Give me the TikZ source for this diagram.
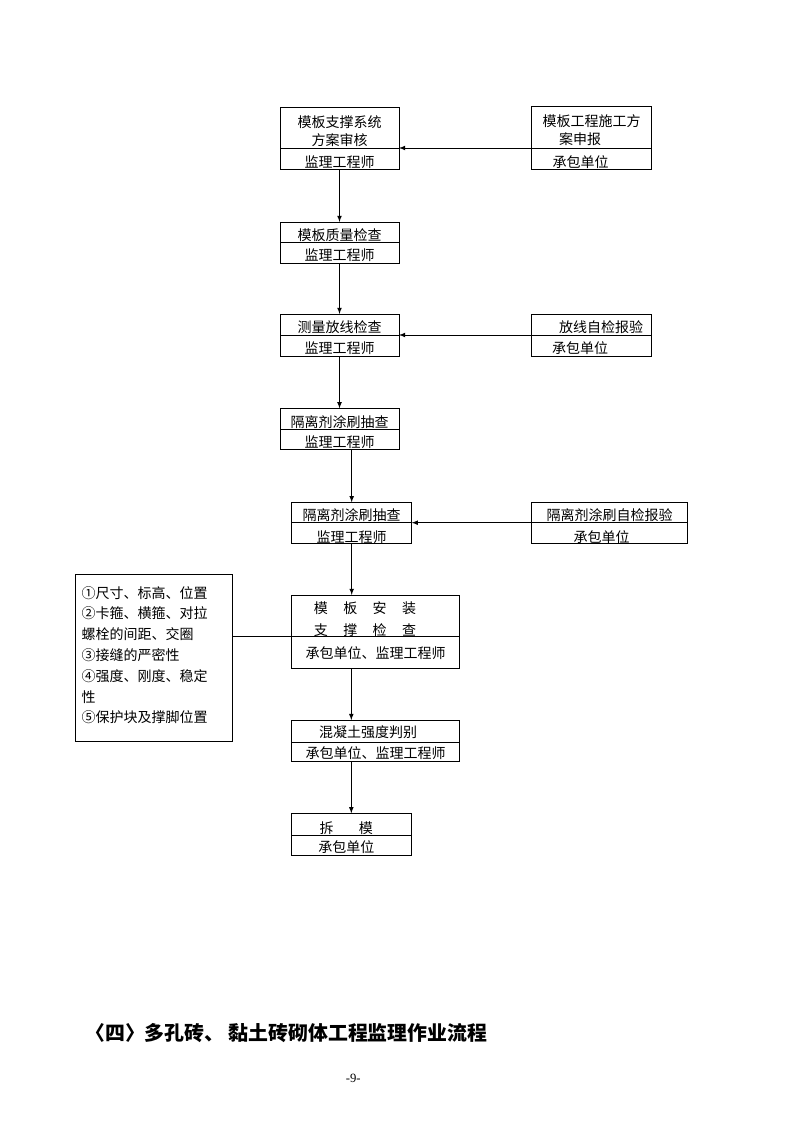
\documentclass[tikz,border=0pt]{standalone}
\usepackage{fontspec}
\newfontfamily\cjk{Noto Sans CJK SC}
\newfontfamily\yemafont{Liberation Serif}
\usetikzlibrary{positioning}
\tikzset{>=latex}
\tikzset{
  xian/.style={line width=0.6pt},
  % 参数为首行支撑高度, 用来把文字往下压
  kuang/.style={xian, draw, rectangle, inner xsep=1pt, inner ysep=0pt, outer sep=0pt,
    minimum width=89.25pt, align=center,
    execute at begin node={\rule{0pt}{#1}},
    font=\cjk\fontsize{10.5pt}{13.5pt}\selectfont},
  kuang/.default=13.3pt,
}

\begin{document}
\begin{tikzpicture}[x=0.75pt, y=-0.75pt]
  \fill[white] (0,0) rectangle (794,1123);
  \useasboundingbox (0,0) rectangle (794,1123);
  % 方案审核 / 方案申报
  \node[kuang=0pt, minimum height=30.75pt] (fa) at (339.5,127.5) {\rule{0pt}{14pt}模板支撑系统\\方案审核};
  \node[kuang=14pt, minimum height=15.75pt, below=0pt of fa] (fab) {监理工程师};
  \node[kuang=0pt, minimum width=90pt, minimum height=31.5pt] (sb) at (591.7,127) {\rule{0pt}{14pt}模板工程施工方\\案申报\hspace*{17.5pt}};
  \node[kuang=14.5pt, minimum width=90pt, minimum height=15.75pt, below=0pt of sb] (sbb) {承包单位\hspace*{16.5pt}};
  % 质量检查
  \node[kuang, minimum height=15pt] (zl) at (339.5,232) {模板质量检查};
  \node[kuang, minimum height=15.75pt, below=0pt of zl] (zlb) {监理工程师};
  % 测量放线
  \node[kuang, minimum height=15.75pt] (cl) at (339.5,324.5) {测量放线检查};
  \node[kuang, minimum height=15.75pt, below=0pt of cl] (clb) {监理工程师};
  \node[kuang, minimum width=90pt, minimum height=15.75pt] (fx) at (591.7,324.5) {\hspace*{14pt}放线自检报验};
  \node[kuang, minimum width=90pt, minimum height=15.75pt, below=0pt of fx] (fxb) {承包单位\hspace*{17.5pt}};
  % 隔离剂涂刷
  \node[kuang, minimum height=15.5pt] (gl) at (339.5,418.7) {隔离剂涂刷抽查};
  \node[kuang, minimum height=15.2pt, below=0pt of gl] (glb) {监理工程师};
  \node[kuang, minimum width=90pt, minimum height=15.3pt] (gl2) at (351.7,512.5) {隔离剂涂刷抽查};
  \node[kuang=14.5pt, minimum width=90pt, minimum height=15.5pt, below=0pt of gl2] (gl2b) {监理工程师};
  \node[kuang, minimum width=116.7pt, minimum height=15.3pt] (zj) at (609.5,512.5) {隔离剂涂刷自检报验};
  \node[kuang=14.5pt, minimum width=116.7pt, minimum height=15.5pt, below=0pt of zj] (zjb) {承包单位\hspace*{12pt}};
  % 安装检查
  \node[kuang=0pt, minimum width=125.7pt, minimum height=31.3pt] (az) at (375.5,615.8)
    {\rule{0pt}{13.3pt}模\hspace{1.1em}板\hspace{1.1em}安\hspace{1.1em}装\hspace*{15.75pt}\\[3pt]支\hspace{1.1em}撑\hspace{1.1em}检\hspace{1.1em}查\hspace*{15.75pt}};
  \node[kuang=10.5pt, minimum width=125.7pt, minimum height=23.7pt, below=0pt of az] (azb) {承包单位、监理工程师};
  \node[xian, draw, rectangle, inner sep=0pt, outer sep=0pt, minimum width=118pt,
    minimum height=125.6pt, text width=108pt, align=left,
    font=\cjk\fontsize{10.5pt}{15.6pt}\selectfont] (yq) at (153.7,658)
    {①尺寸、标高、位置\\②卡箍、横箍、对拉\\螺栓的间距、交圈\\③接缝的严密性\\④强度、刚度、稳定\\性\\⑤保护块及撑脚位置\rule[-5.2pt]{0pt}{0pt}};
  % 强度判别、拆模
  \node[kuang=11pt, minimum width=125.7pt, minimum height=16.7pt] (hnt) at (375.5,731.2) {混凝土强度判别\hspace*{11pt}};
  \node[kuang=11pt, minimum width=125.7pt, minimum height=14pt, below=0pt of hnt] (hntb) {承包单位、监理工程师};
  \node[kuang=14.8pt, minimum width=89.5pt, minimum height=16.3pt] (cm) at (351.3,824.2) {拆\hspace{1.8em}模\hspace*{7.5pt}};
  \node[kuang=11.5pt, minimum width=89.5pt, minimum height=15.5pt, below=0pt of cm] (cmb) {承包单位\hspace*{7.5pt}};
  % 连线
  \draw[xian, ->] (sb.south west) -- (fa.south east);
  \draw[xian, ->] (fab.south) -- (zl.north);
  \draw[xian, ->] (zlb.south) -- (cl.north);
  \draw[xian, ->] (fx.south west) -- (cl.south east);
  \draw[xian, ->] (clb.south) -- (gl.north);
  \draw[xian, ->] (glb.south -| gl2.north) -- (gl2.north);
  \draw[xian, ->] (zj.south west) -- (gl2.south east);
  \draw[xian, ->] (gl2b.south) -- (gl2b.south |- az.north);
  \draw[xian] (yq.east |- az.south) -- (az.south west);
  \draw[xian, ->] (azb.south -| cm.north) -- (hnt.north -| cm.north);
  \draw[xian, ->] (hntb.south -| cm.north) -- (cm.north);
  % 标题与页码
  \node[anchor=west, inner sep=0pt, font=\cjk\bfseries\fontsize{14.9pt}{16pt}\selectfont] (biaoti) at (85,1033)
    {〈四〉多孔砖、 黏土砖砌体工程监理作业流程};
  \node[inner sep=0pt, font=\yemafont\fontsize{9.5pt}{11pt}\selectfont] (yema) at (353.3,1078) {-9-};
\end{tikzpicture}
\end{document}
